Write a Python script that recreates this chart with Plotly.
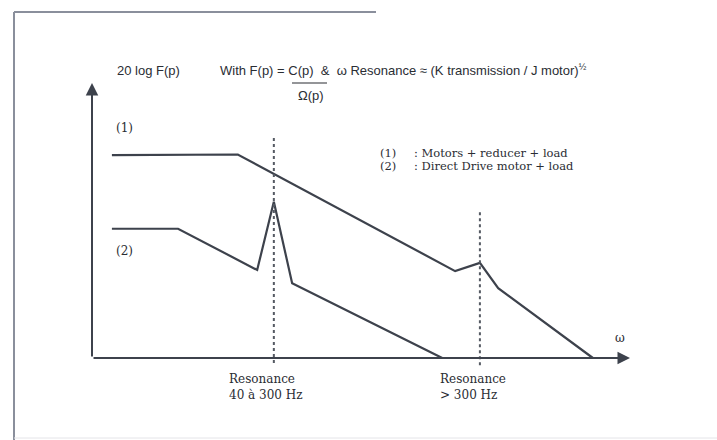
import plotly.graph_objects as go

# ---------------- data (arbitrary units: ω along x, 20 log F(p) along y) ----------------
curve1_w = [0.37, 2.71, 6.75, 7.21, 7.55, 9.31]
curve1_g = [3.69, 3.70, 1.58, 1.73, 1.27, 0.00]
curve2_w = [0.37, 1.60, 3.07, 3.38, 3.72, 6.51]
curve2_g = [2.35, 2.35, 1.60, 2.84, 1.36, 0.00]
resonance_w = [3.38, 7.21]
resonance_top = [4.00, 2.65]
resonance_labels = ["Resonance<br>40 à 300 Hz", "Resonance<br>&gt; 300 Hz"]
legend_ids = ["(1)", "(2)"]
legend_texts = [": Motors + reducer + load", ": Direct Drive motor + load"]
axis_w_max = 10.0
axis_g_max = 5.0

# ---------------- layout helpers ----------------
W, H = 717, 440
X0, SX = 92.0, 53.8   # pixel of ω=0, pixels per unit
Y0, SY = 358.0, 55.0  # pixel of gain=0, pixels per unit

def dx(px):
    return (px - X0) / SX

def dy(py):
    return (Y0 - py) / SY

LINE = "#3d424c"
TEXT = "#2a2d33"
SERIF = "DejaVu Serif"
SANS = "Liberation Sans"

fig = go.Figure()

fig.add_trace(go.Scatter(x=curve1_w, y=curve1_g, mode="lines",
                         line=dict(color=LINE, width=2.2), hoverinfo="skip"))
fig.add_trace(go.Scatter(x=curve2_w, y=curve2_g, mode="lines",
                         line=dict(color=LINE, width=2.2), hoverinfo="skip"))

# dotted resonance markers
for w, top in zip(resonance_w, resonance_top):
    fig.add_trace(go.Scatter(x=[w, w], y=[top, dy(366)], mode="lines",
                             line=dict(color="#555a63", width=2, dash="dot"),
                             hoverinfo="skip"))

shapes = []
annotations = []

# axes with arrows
annotations.append(dict(x=0, y=axis_g_max, ax=0, ay=0, xref="x", yref="y",
                        axref="x", ayref="y", text="", showarrow=True,
                        arrowhead=2, arrowsize=1.25, arrowwidth=2, arrowcolor=LINE))
annotations.append(dict(x=axis_w_max, y=0, ax=0, ay=0, xref="x", yref="y",
                        axref="x", ayref="y", text="", showarrow=True,
                        arrowhead=2, arrowsize=1.25, arrowwidth=2, arrowcolor=LINE))

# scan frame
def px_paper(x):
    return x / W

def py_paper(y):
    return 1 - y / H

shapes.append(dict(type="line", xref="paper", yref="paper",
                   x0=px_paper(14), y0=py_paper(12), x1=px_paper(376), y1=py_paper(12),
                   line=dict(color="#8a8f9c", width=2)))
shapes.append(dict(type="line", xref="paper", yref="paper",
                   x0=px_paper(14), y0=py_paper(12), x1=px_paper(14), y1=py_paper(440),
                   line=dict(color="#8a8f9c", width=2)))
shapes.append(dict(type="line", xref="paper", yref="paper",
                   x0=px_paper(14), y0=py_paper(438), x1=px_paper(717), y1=py_paper(438),
                   line=dict(color="#e4e4e8", width=1)))

# fraction bar under C(p)
shapes.append(dict(type="line", xref="x", yref="y",
                   x0=dx(292), y0=dy(83), x1=dx(327), y1=dy(83),
                   line=dict(color=TEXT, width=1.2)))

def txt(x, y, s, size=11, family=SERIF, anchor="left", align="left"):
    annotations.append(dict(x=dx(x), y=dy(y), xref="x", yref="y", text=s,
                            showarrow=False, xanchor=anchor, yanchor="middle",
                            align=align, font=dict(family=family, size=size, color=TEXT)))

txt(115, 70, "20 log F(p)", size=13, family=SANS)
txt(218, 70, "With F(p) = C(p)  &amp;  ω Resonance ≈ (K transmission / J motor)<sup>½</sup>",
    size=13, family=SANS)
txt(296, 95, "Ω(p)", size=13, family=SANS)

txt(114, 128, "(1)", size=12)
txt(114, 251, "(2)", size=12)

for i, (lid, lt) in enumerate(zip(legend_ids, legend_texts)):
    yy = 153 + i * 13
    txt(378, yy, lid, size=11.5)
    txt(412, yy, lt, size=11.5)

txt(613, 338, "ω", size=12)

for w, lab, lx in zip(resonance_w, resonance_labels, [227, 438]):
    txt(lx, 387, lab, size=12)

fig.update_layout(
    width=W, height=H,
    margin=dict(l=0, r=0, t=0, b=0),
    paper_bgcolor="white", plot_bgcolor="white",
    showlegend=False,
    xaxis=dict(range=[dx(0), dx(W)], visible=False, fixedrange=True),
    yaxis=dict(range=[dy(H), dy(0)], visible=False, fixedrange=True),
    shapes=shapes,
    annotations=annotations,
)

fig.write_html("out.html", config={"displayModeBar": False},
               post_script="document.body.style.margin='0';document.body.style.overflow='hidden';")
